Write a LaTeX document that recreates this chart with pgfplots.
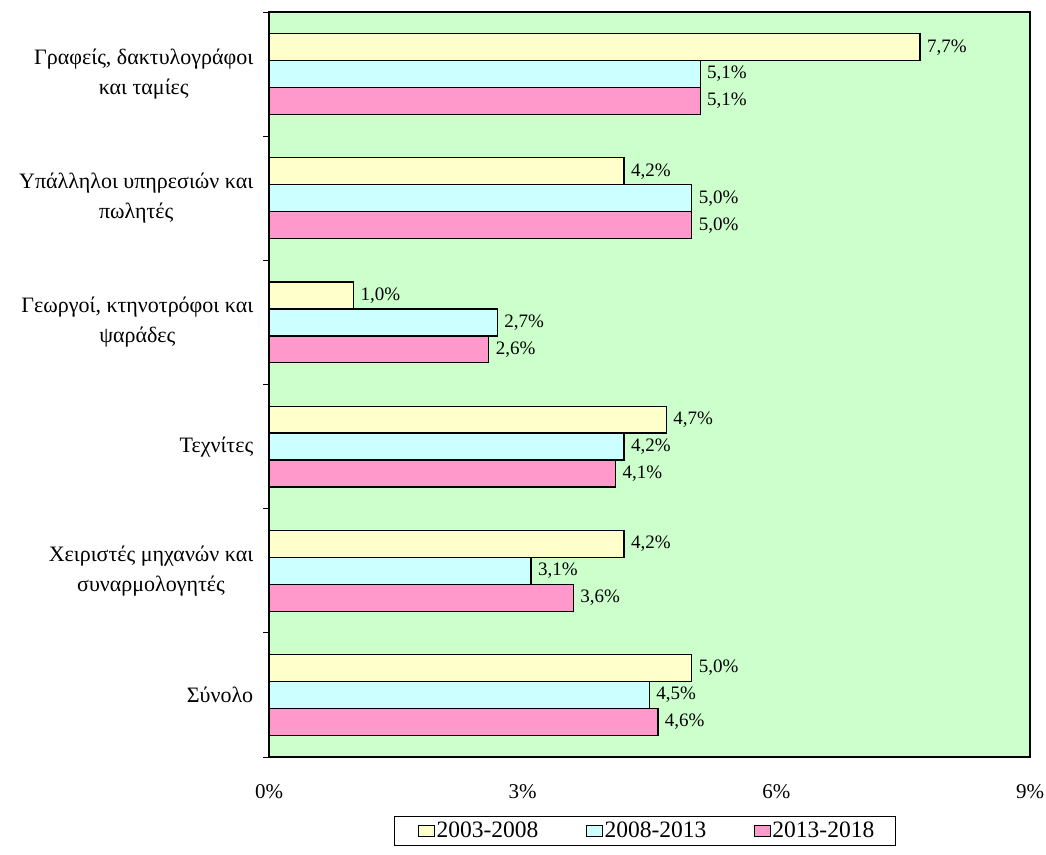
\documentclass[border=0pt]{standalone}
\usepackage{fontspec}
\setmainfont{Liberation Serif}
\usepackage{pgfplots}
\pgfplotsset{compat=1.18}
\definecolor{bggreen}{HTML}{CCFFCC}
\definecolor{cyellow}{HTML}{FFFFCC}
\definecolor{ccyan}{HTML}{CCFFFF}
\definecolor{cpink}{HTML}{FF99CC}
\begin{document}
\begin{tikzpicture}[x=1pt,y=1pt]
\useasboundingbox (0,0) rectangle (1046,854);
\begin{axis}[
  at={(269pt,97pt)}, anchor=south west,
  scale only axis, width=761pt, height=745pt,
  /pgf/number format/assume math mode=true,
  xbar, bar width=0.217,
  xmin=0, xmax=9, ymin=-0.5, ymax=5.5, y dir=reverse,
  axis background/.style={fill=bggreen},
  axis line style={line width=1.4pt},
  xtick={0,3,6,9}, xticklabels={0\%,3\%,6\%,9\%},
  major x tick style={draw=none},
  xticklabel style={yshift=-20pt, font=\fontsize{21}{24}\selectfont},
  ytick={0,1,2,3,4,5},
  yticklabels={{Γραφείς, δακτυλογράφοι\\και ταμίες},{Υπάλληλοι υπηρεσιών και\\πωλητές},{Γεωργοί, κτηνοτρόφοι και\\ψαράδες},{Τεχνίτες},{Χειριστές μηχανών και\\συναρμολογητές},{Σύνολο}},
  yticklabel style={align=center, xshift=-8pt, font=\fontsize{22}{30}\selectfont},
  ytick pos=left,
  major y tick style={draw=none},
  minor ytick={-0.5,0.5,1.5,2.5,3.5,4.5,5.5},
  minor y tick style={line width=0.8pt, black},
  minor tick length=6pt, tick align=outside,
  nodes near coords={\pgfmathprintnumber[fixed,fixed zerofill,precision=1,use comma]{\pgfplotspointmeta}\%},
  nodes near coords style={font=\fontsize{19}{22}\selectfont, anchor=west, xshift=3pt},
  every axis plot/.append style={draw=black, line width=1.3pt},
  legend style={at={(0.494,-0.079)}, anchor=north, legend columns=3, draw=black, line width=0.8pt, fill=white,
    font=\fontsize{23.5}{26}\selectfont, inner xsep=0pt, inner ysep=4pt,
    /tikz/every odd column/.append style={column sep=0pt},
    /tikz/every even column/.append style={column sep=22pt},
    nodes={inner xsep=1.5pt}},
  legend image code/.code={\path (-24pt,0pt); \draw[#1, line width=0.8pt] (0pt,-6pt) rectangle (16pt,5pt);},
  clip=false,
]
\addplot[fill=cyellow, bar shift=-0.217] coordinates {(7.7,0) (4.2,1) (1.0,2) (4.7,3) (4.2,4) (5.0,5)};
\addplot[fill=ccyan, bar shift=0] coordinates {(5.1,0) (5.0,1) (2.7,2) (4.2,3) (3.1,4) (4.5,5)};
\addplot[fill=cpink, bar shift=0.217] coordinates {(5.1,0) (5.0,1) (2.6,2) (4.1,3) (3.6,4) (4.6,5)};
\legend{2003-2008,2008-2013,2013-2018\kern20pt}
\end{axis}
\end{tikzpicture}
\end{document}
